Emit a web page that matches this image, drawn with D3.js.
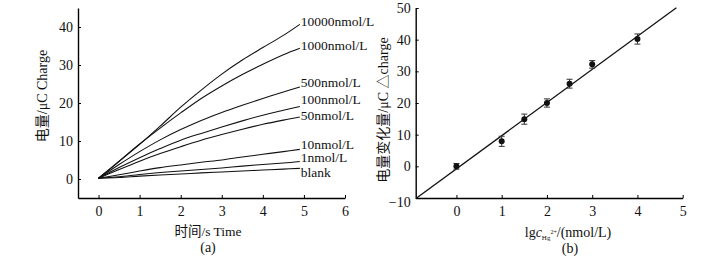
<!DOCTYPE html>
<html><head><meta charset="utf-8">
<script src="https://cdn.jsdelivr.net/npm/d3@7"></script>
<style>
body{margin:0;background:#fff;}
svg{display:block;}
.tick text{font-family:"Liberation Serif",serif;font-size:14px;fill:#111;}
</style>
</head><body>
<svg id="c" width="713" height="261"></svg>
<script>
// ---- data (a) ----
const times = [0, 0.5, 1, 1.5, 2, 2.5, 3, 3.5, 4, 4.5, 4.9];
const seriesNames = ["10000nmol/L","1000nmol/L","500nmol/L","100nmol/L","50nmol/L","10nmol/L","1nmol/L","blank"];
const s10000 = [0.2, 4.6, 9.1, 13.9, 18.9, 23.4, 27.6, 31.3, 34.6, 37.8, 40.7];
const s1000  = [0.2, 4.7, 9.2, 13.4, 17.4, 21.2, 24.5, 27.5, 30.2, 32.7, 34.4];
const s500   = [0.2, 3.8, 7.2, 10.3, 13.0, 15.4, 17.5, 19.4, 21.2, 22.9, 24.2];
const s100   = [0.2, 3.0, 5.6, 8.0, 10.2, 12.0, 13.7, 15.3, 16.8, 18.1, 19.1];
const s50    = [0.2, 2.5, 4.7, 6.7, 8.5, 10.2, 11.7, 13.1, 14.4, 15.5, 16.3];
const s10    = [0.2, 1.1, 2.1, 3.0, 3.7, 4.4, 5.0, 5.8, 6.5, 7.2, 7.8];
const s1     = [0.2, 0.6, 1.2, 1.7, 2.1, 2.5, 2.9, 3.4, 3.8, 4.2, 4.6];
const sBlank = [0.2, 0.4, 0.75, 1.05, 1.3, 1.6, 1.85, 2.1, 2.35, 2.6, 2.8];
const labelValues = [41.4, 35.3, 25.5, 21.1, 16.7, 9.2, 5.6, 1.9];
const xTicksA = [0,1,2,3,4,5,6];
const yTicksA = [0,10,20,30,40];

// ---- data (b) ----
const lgc = [0, 1, 1.5, 2, 2.5, 3, 4];
const dCharge = [0.0, 7.9, 14.9, 20.0, 26.1, 32.2, 40.2];
const errB = [0.9, 1.6, 1.6, 1.3, 1.4, 1.2, 1.6];
const fitX = [-0.88, 4.86];
const fitY = [-10, 50.1];
const xTicksB = [0,1,2,3,4,5];
const yTicksB = [-10,0,10,20,30,40,50];

const svg = d3.select("#c");
const cjk = '"Liberation Serif","Noto Sans CJK SC",serif';
const fmt = d3.format("d");

// ===== chart (a) =====
const xa = d3.scaleLinear().domain([-0.5, 6]).range([78, 345]);
const ya = d3.scaleLinear().domain([-5, 45]).range([198, 8]);
const ga = svg.append("g");
ga.append("g").attr("transform","translate(0,198)")
  .call(d3.axisBottom(xa).tickValues(xTicksA).tickFormat(fmt).tickSize(-3).tickPadding(8).tickSizeOuter(0))
  .call(g=>g.select(".domain").attr("stroke-width",1.4));
ga.append("g").attr("transform","translate(78,0)")
  .call(d3.axisLeft(ya).tickValues(yTicksA).tickFormat(fmt).tickSize(-3).tickPadding(5).tickSizeOuter(0))
  .call(g=>g.select(".domain").attr("stroke-width",1.4));
const allSeries = [s10000,s1000,s500,s100,s50,s10,s1,sBlank];
const lineA = d3.line().x((d,i)=>xa(times[i])).y(d=>ya(d)).curve(d3.curveCatmullRom.alpha(0.5));
allSeries.forEach((s,k)=>{
  ga.append("path").attr("d",lineA(s)).attr("fill","none").attr("stroke","#111").attr("stroke-width",1.1);
  ga.append("text").attr("x", xa(times[times.length-1])+1).attr("y", ya(labelValues[k])).attr("dy","0.35em")
    .attr("font-family",'"Liberation Serif",serif').attr("font-size",13.5).attr("fill","#111").text(seriesNames[k]);
});
ga.append("text").attr("transform","translate(42,96) rotate(-90)").attr("text-anchor","middle").attr("dy","0.35em")
  .attr("font-family",cjk).attr("font-size",14).attr("fill","#111").text("电量/μC Charge");
ga.append("text").attr("x",208).attr("y",231).attr("text-anchor","middle").attr("dy","0.35em")
  .attr("font-family",cjk).attr("font-size",13.5).attr("fill","#111").text("时间/s Time");
ga.append("text").attr("x",208).attr("y",247).attr("text-anchor","middle").attr("dy","0.35em")
  .attr("font-family",'"Liberation Serif",serif').attr("font-size",14).attr("fill","#111").text("(a)");

// ===== chart (b) =====
const xb = d3.scaleLinear().domain([-0.9, 5]).range([415.7, 682.7]);
const yb = d3.scaleLinear().domain([-10, 50]).range([198, 8]);
const gb = svg.append("g");
gb.append("g").attr("transform","translate(0,198)")
  .call(d3.axisBottom(xb).tickValues(xTicksB).tickFormat(fmt).tickSize(-3).tickPadding(8).tickSizeOuter(0))
  .call(g=>g.select(".domain").attr("stroke-width",1.4));
const yAxB = gb.append("g").attr("transform","translate(415.7,0)")
  .call(d3.axisLeft(yb).tickValues(yTicksB).tickSize(-3).tickPadding(5).tickSizeOuter(0).tickFormat(d=>d<0?"\u2212"+(-d):fmt(d)))
  .call(g=>g.select(".domain").attr("stroke-width",1.4));
yAxB.selectAll(".tick").filter(d=>d===-10).select("text").attr("dy","0.62em");
gb.append("path").attr("d", d3.line().x((d,i)=>xb(fitX[i])).y(d=>yb(d))(fitY))
  .attr("stroke","#111").attr("stroke-width",1.3).attr("fill","none");
const eb = gb.append("g").attr("stroke","#333").attr("stroke-width",1);
lgc.forEach((x,i)=>{
  const cx = xb(x), t = yb(dCharge[i]+errB[i]), b = yb(dCharge[i]-errB[i]);
  eb.append("line").attr("x1",cx).attr("x2",cx).attr("y1",t).attr("y2",b);
  eb.append("line").attr("x1",cx-3).attr("x2",cx+3).attr("y1",t).attr("y2",t);
  eb.append("line").attr("x1",cx-3).attr("x2",cx+3).attr("y1",b).attr("y2",b);
});
gb.selectAll("circle.pt").data(lgc).join("circle").attr("class","pt")
  .attr("cx",d=>xb(d)).attr("cy",(d,i)=>yb(dCharge[i])).attr("r",3).attr("fill","#111");
gb.append("text").attr("transform","translate(383,110) rotate(-90)").attr("text-anchor","middle").attr("dy","0.35em")
  .attr("font-family",cjk).attr("font-size",14).attr("fill","#111").text("电量变化量/μC △charge");
const xl = gb.append("text").attr("x",568).attr("y",232).attr("text-anchor","middle").attr("dy","0.35em")
  .attr("font-family",'"Liberation Serif",serif').attr("font-size",14).attr("fill","#111");
xl.append("tspan").text("lg");
xl.append("tspan").attr("font-style","italic").text("c");
xl.append("tspan").attr("font-size",7).attr("dy","3").text("Hg");
xl.append("tspan").attr("font-size",6).attr("dy","-6").text("2+");
xl.append("tspan").attr("dy","3").text("/(nmol/L)");
gb.append("text").attr("x",570).attr("y",248).attr("text-anchor","middle").attr("dy","0.35em")
  .attr("font-family",'"Liberation Serif",serif').attr("font-size",14).attr("fill","#111").text("(b)");
</script>
</body></html>
